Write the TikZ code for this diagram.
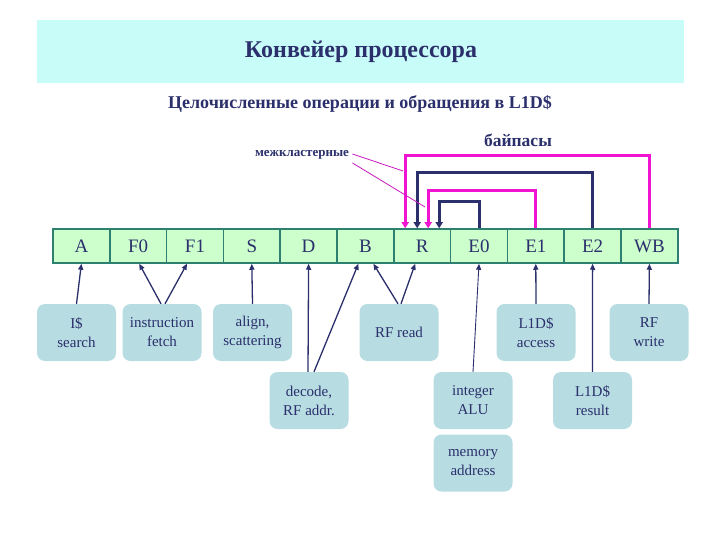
\documentclass[tikz,border=0pt]{standalone}
\usepackage{fontspec}
\setmainfont{Liberation Serif}
\usetikzlibrary{arrows.meta}
\definecolor{navy}{RGB}{43,47,107}
\definecolor{magen}{RGB}{240,20,210}
\definecolor{titlebg}{RGB}{200,252,249}
\definecolor{cellfill}{RGB}{204,255,204}
\definecolor{cellline}{RGB}{46,128,112}
\definecolor{boxfill}{RGB}{183,221,227}
\tikzset{
  cell/.style={draw=cellline, line width=1.5pt, fill=cellfill, minimum width=56.8pt, minimum height=34pt, inner sep=0pt, text=navy, font=\fontsize{19}{19}\selectfont, anchor=center},
  tbox/.style={fill=boxfill, rounded corners=8pt, minimum width=79pt, minimum height=57pt, inner sep=1pt, text=navy, align=center, font=\fontsize{15}{19}\selectfont},
  arr/.style={draw=navy, line width=1.3pt, -{Triangle[length=6pt,width=5pt]}},
  bpm/.style={draw=magen, line width=3pt, -{Triangle[length=6pt,width=7pt]}},
  bpn/.style={draw=navy, line width=3pt, -{Triangle[length=6pt,width=7pt]}},
  ptr/.style={draw=magen!80!navy, line width=0.8pt}
}
\begin{document}
\begin{tikzpicture}[x=1pt,y=-1pt]
\useasboundingbox (0,0) rectangle (720,540);
\fill[white] (0,0) rectangle (720,540);
% title
\node[fill=titlebg, minimum width=647pt, minimum height=63pt, inner sep=0pt] (titlebox) at (360.5,51.5) {};
\node[text=navy, font=\bfseries\fontsize{24}{24}\selectfont] (title) at (361,52) {Конвейер процессора};
\node[text=navy, font=\bfseries\fontsize{18}{18}\selectfont] (sub) at (360,104) {Целочисленные операции и обращения в L1D\$};
\node[text=navy, font=\bfseries\fontsize{17.5}{17.5}\selectfont] (bypass) at (518,140) {байпасы};
\node[text=navy, font=\bfseries\fontsize{13}{13}\selectfont] (inter) at (302,155) {межкластерные};
% cells
\foreach \n/\t [count=\i from 0] in {cA/A,cF0/F0,cF1/F1,cS/S,cD/D,cB/B,cR/R,cE0/E0,cE1/E1,cE2/E2,cWB/WB}
  \node[cell] (\n) at ({53+56.8*\i+28.4},246) {\t};
% boxes
\node[tbox] (isearch) at (76.5,332.5) {I\$\\search};
\node[tbox] (ifetch) at (162,332.5) {instruction\\fetch};
\node[tbox] (align) at (252.5,332.5) {align,\\scattering};
\node[tbox] (decode) at (309,400.5) {decode,\\RF addr.};
\node[tbox] (rfread) at (399,332.5) {RF read};
\node[tbox] (l1acc) at (536,332.5) {L1D\$\\access};
\node[tbox] (rfwrite) at (649,332.5) {RF\\write};
\node[tbox] (ialu) at (473,400.5) {integer\\ALU};
\node[tbox] (l1res) at (592.5,400.5) {L1D\$\\result};
\node[tbox] (memaddr) at (473,463) {memory\\address};
% box-to-cell arrows
\draw[arr] (isearch.north) -- (cA.south);
\draw[arr] ([xshift=-1pt]ifetch.north) -- ([xshift=1pt]cF0.south);
\draw[arr] ([xshift=3pt]ifetch.north) -- ([xshift=-8pt]cF1.south);
\draw[arr] (align.north) -- (cS.south);
\draw[arr] ([xshift=-1pt]decode.north) -- (cD.south);
\draw[arr] ([xshift=5pt]decode.north) -- ([xshift=-7pt]cB.south);
\draw[arr] ([xshift=-1pt]rfread.north) -- ([xshift=8pt]cB.south);
\draw[arr] ([xshift=2pt]rfread.north) -- ([xshift=-7pt]cR.south);
\draw[arr, line width=0.9pt] (ialu.north) -- (cE0.south);
\draw[arr] (l1acc.north) -- (cE1.south);
\draw[arr] (l1res.north) -- (cE2.south);
\draw[arr] (rfwrite.north) -- (cWB.south);
% bypasses
\coordinate (y1) at (0,156);
\coordinate (y2) at (0,173);
\coordinate (y3) at (0,191);
\coordinate (y4) at (0,202);
\draw[bpm] (cWB.north) -- (cWB.north |- y1) -| ([xshift=-17pt]cR.north);
\draw[bpn] (cE2.north) -- (cE2.north |- y2) -| ([xshift=-5pt]cR.north);
\draw[bpm] (cE1.north) -- (cE1.north |- y3) -| ([xshift=6pt]cR.north);
\draw[bpn] (cE0.north) -- (cE0.north |- y4) -| ([xshift=17pt]cR.north);
% pointers from label
\coordinate (p1) at (403,171);
\coordinate (p2) at (425,207);
\draw[ptr] ([yshift=1pt]inter.east) -- (p1);
\draw[ptr] ([yshift=-8pt]inter.east) -- (p2);
\end{tikzpicture}
\end{document}
